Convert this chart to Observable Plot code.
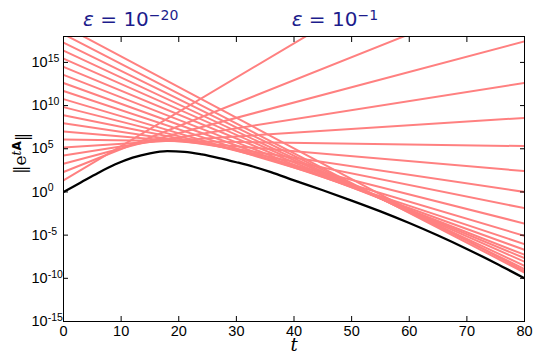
<!DOCTYPE html>
<html><head><meta charset="utf-8">
<script src="https://cdn.jsdelivr.net/npm/d3@7"></script>
<script src="https://cdn.jsdelivr.net/npm/@observablehq/plot@0.6"></script>
<style>body{margin:0;background:#fff}</style>
</head><body><div id="chart"></div>
<script>
// epsilon levels of the pseudospectral bounds (10^k)
const epsExponents = [-1,-2,-3,-4,-5,-6,-7,-8,-9,-10,-11,-12,-13,-14,-15,-16,-17,-18,-19,-20];
// log10 of each bound at t = 0 and at t = 80 (straight lines on log axis)
const boundStartExp = [1.35, 2.31, 3.27, 4.21, 5.14, 6.08, 7.01, 7.95, 8.88, 9.82, 10.75, 11.69, 12.62, 13.56, 14.49, 15.43, 16.36, 17.30, 18.27, 19.24];
const boundEndExp   = [33.06, 23.58, 17.44, 12.62, 8.58, 5.31, 2.42, 0.00, -1.88, -3.66, -5.08, -6.04, -6.70, -7.27, -7.66, -8.08, -8.55, -8.93, -9.33, -9.16];
// ||e^{tA}|| : time samples and log10 of the norm
const normT   = [0, 3, 6, 9, 12, 15, 18, 21, 24, 27, 30, 33, 36, 40, 45, 50, 55, 60, 65, 70, 75, 80];
const normExp = [0, 1.10, 2.20, 3.20, 3.98, 4.48, 4.72, 4.64, 4.34, 3.92, 3.44, 2.92, 2.30, 1.35, 0.20, -1.00, -2.25, -3.60, -5.05, -6.60, -8.25, -10.0];
// axis ticks
const xTicks = [0, 10, 20, 30, 40, 50, 60, 70, 80];
const yTickExps = [-15, -10, -5, 0, 5, 10, 15];
// annotation labels
const epsLabelExp = [-20, -1];
const epsLabelT = [3.4, 39.6];

const bounds = [];
epsExponents.forEach((e, i) => {
  bounds.push({eps: e, t: 0, v: Math.pow(10, boundStartExp[i])});
  bounds.push({eps: e, t: 80, v: Math.pow(10, boundEndExp[i])});
});
const norm = normT.map((t, i) => ({t, v: Math.pow(10, normExp[i])}));
const yTicks = yTickExps.map(e => Math.pow(10, e));
const epsLabels = epsLabelExp.map((e, i) => ({t: epsLabelT[i], text: "ε = 10^" + e}));

const plot = Plot.plot({
  width: 533, height: 353,
  marginLeft: 63, marginRight: 9, marginTop: 36, marginBottom: 32,
  x: {domain: [0, 80]},
  y: {type: "log", domain: [1e-15, 1e18]},
  style: {fontFamily: "'Liberation Sans', Arial, sans-serif", fontSize: "14px", color: "black", background: "white", overflow: "visible"},
  marks: [
    Plot.line(bounds, {x: "t", y: "v", z: "eps", stroke: "#ff8080", strokeWidth: 2, clip: true}),
    Plot.line(norm, {x: "t", y: "v", stroke: "black", strokeWidth: 2.3, curve: "monotone-x", clip: true}),
    Plot.frame({stroke: "black", strokeWidth: 1}),
    Plot.axisX({anchor: "bottom", ticks: xTicks, tickSize: 0, tickPadding: 4, label: null, tickFormat: d => String(d)}),
    Plot.axisX({anchor: "bottom", ticks: xTicks, tickSize: -5, tickFormat: () => "", label: null}),
    Plot.axisX({anchor: "top", ticks: xTicks, tickSize: -5, tickFormat: () => "", label: null}),
    Plot.axisY({anchor: "left", ticks: yTicks, tickSize: 0, tickPadding: 0, textAnchor: "start", dx: -32, label: null, tickFormat: d => "10^" + Math.round(Math.log10(d))}),
    Plot.axisY({anchor: "left", ticks: yTicks, tickSize: -5, tickFormat: () => "", label: null}),
    Plot.axisY({anchor: "right", ticks: yTicks, tickSize: -5, tickFormat: () => "", label: null}),
    Plot.text(epsLabels, {x: "t", frameAnchor: "top", dy: -11, text: "text", textAnchor: "start", lineAnchor: "bottom", fontSize: 20, fill: "#1c1c8c", fontFamily: "'DejaVu Sans', sans-serif"}),
    Plot.text([{t: 40}], {x: "t", frameAnchor: "bottom", dy: 29, lineAnchor: "bottom", text: () => "t", fontStyle: "italic", fontSize: 18, fontFamily: "'DejaVu Serif', serif"}),
    Plot.text([{k: 0}], {frameAnchor: "left", dx: -43, dy: -5, rotate: -90, text: () => "‖e^tA‖", fontSize: 17, fontFamily: "'DejaVu Serif', serif"})
  ]
});

const svg = d3.select(plot);
svg.selectAll("text").each(function() {
  const s = d3.select(this);
  const txt = this.textContent;
  if (/^\d+$/.test(txt)) { s.attr("font-size", 14.5); return; }
  if (txt.indexOf("^") < 0) return;
  let m;
  if ((m = txt.match(/^ε = 10\^(.*)$/))) {
    s.selectAll("*").remove(); s.text(null);
    s.append("tspan").attr("font-style", "italic").text("ε");
    s.append("tspan").text(" = 10");
    s.append("tspan").attr("dy", "-0.42em").attr("font-size", 14).text(m[1].replace("-", "−"));
  } else if (txt === "‖e^tA‖") {
    s.selectAll("*").remove(); s.text(null);
    s.append("tspan").text("‖e");
    s.append("tspan").attr("dy", "-0.45em").attr("font-size", 12).attr("font-style", "italic").text("t");
    s.append("tspan").attr("font-size", 12).attr("font-weight", "bold").attr("font-family", "'DejaVu Sans', sans-serif").text("A");
    s.append("tspan").attr("dy", "0.45em").text("‖");
  } else if ((m = txt.match(/^10\^(.*)$/))) {
    s.selectAll("*").remove(); s.text(null);
    s.attr("font-size", 14.5);
    s.append("tspan").text("10");
    s.append("tspan").attr("dy", "-0.5em").attr("font-size", 10.5).text(m[1]);
  }
});
document.getElementById("chart").appendChild(plot);
</script>
</body></html>
